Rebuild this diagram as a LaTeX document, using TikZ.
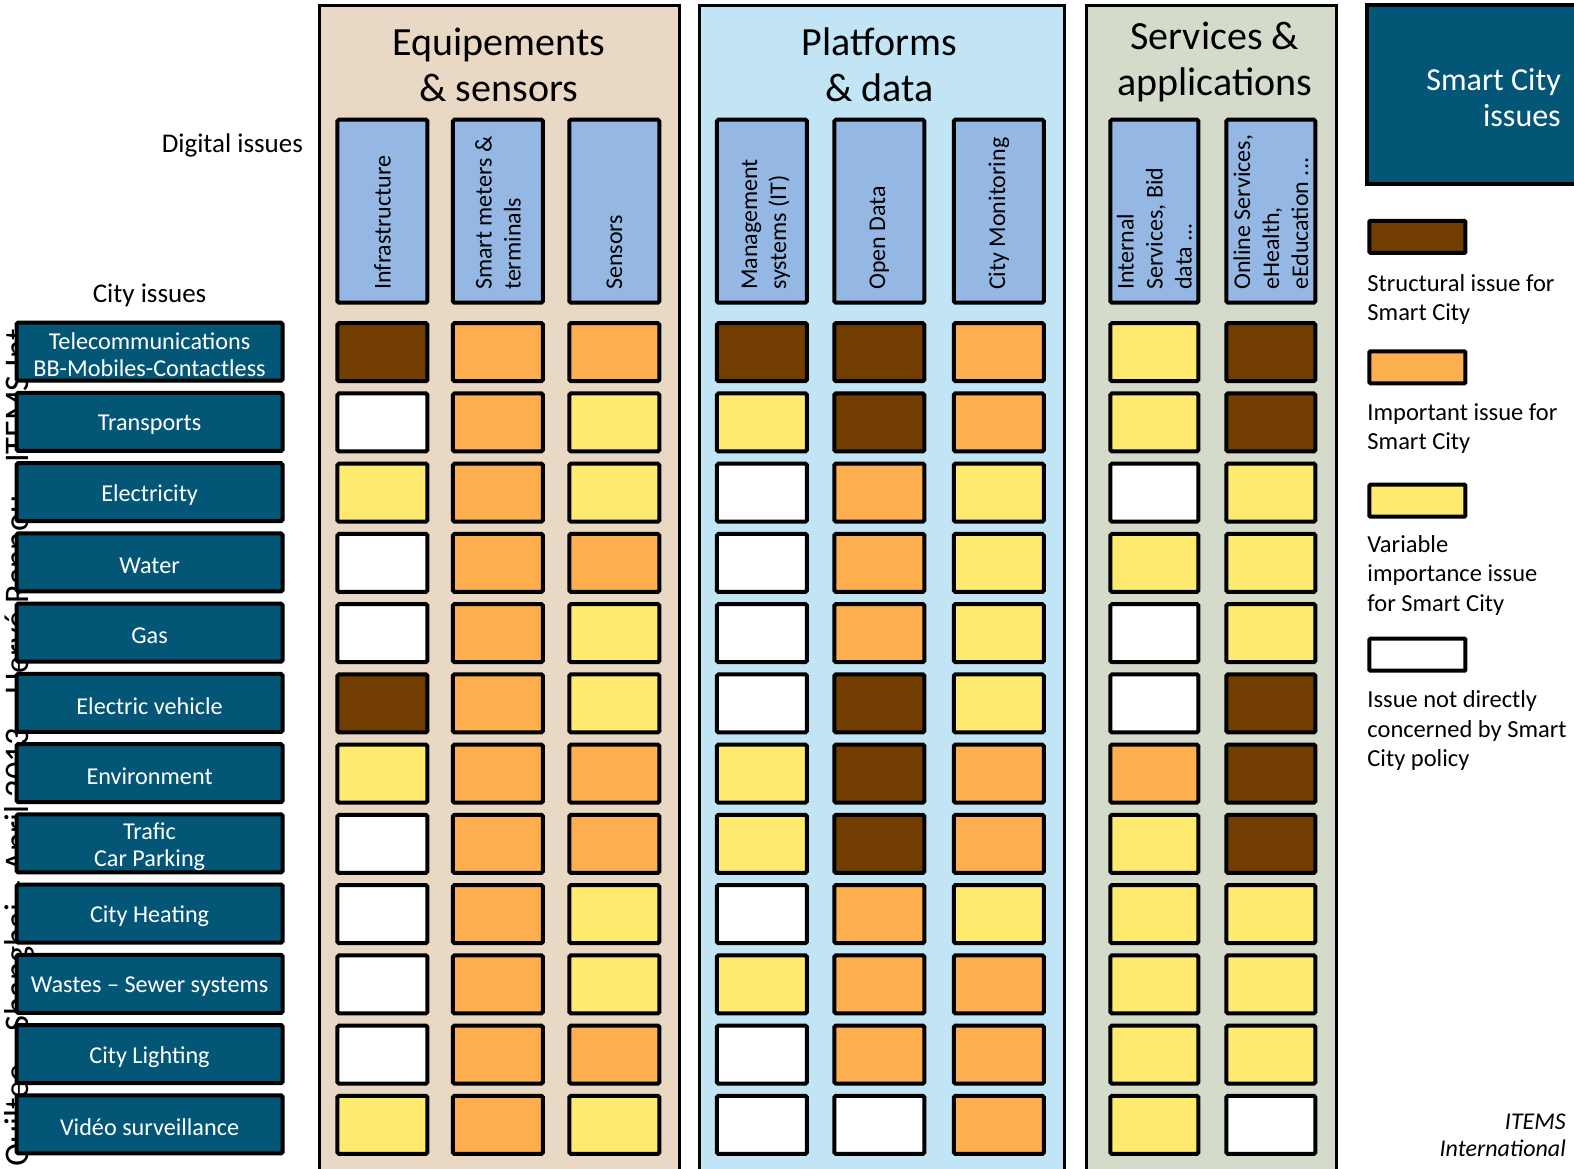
\documentclass[tikz,border=0pt]{standalone}
\usepackage{fontspec}
\setmainfont{Carlito}
\definecolor{pbeige}{HTML}{E9D8C3}
\definecolor{pblue}{HTML}{C1E5F4}
\definecolor{pgreen}{HTML}{D5DBCB}
\definecolor{hblue}{HTML}{95B7E3}
\definecolor{smteal}{HTML}{045677}
\definecolor{cbrown}{HTML}{713D00}
\definecolor{corange}{HTML}{FDAE4E}
\definecolor{cyellow}{HTML}{FEEA6E}
\tikzset{
  panel/.style={draw=black, line width=3pt},
  hdrbox/.style={draw=black, line width=4pt, fill=hblue, minimum width=90pt, minimum height=183pt, rounded corners=1.5pt, inner sep=0pt},
  hdrtext/.style={rotate=90, anchor=west, align=left, inner sep=0pt, font=\fontsize{24}{29}\selectfont},
  cellbox/.style={draw=black, line width=4pt, minimum width=90pt, minimum height=58pt, rounded corners=1.5pt, inner sep=0pt},
  cB/.style={cellbox, fill=cbrown},
  cO/.style={cellbox, fill=corange},
  cY/.style={cellbox, fill=cyellow},
  cW/.style={cellbox, fill=white},
  citybox/.style={draw=black, line width=4pt, fill=smteal, minimum width=266pt, minimum height=58pt, rounded corners=1.5pt, inner sep=0pt},
  citytext/.style={text=white, inner sep=0pt, align=center, font=\fontsize{24.2}{27}\selectfont},
  titletext/.style={align=center, inner sep=0pt, font=\fontsize{40}{46}\selectfont},
  legbox/.style={draw=black, line width=4pt, minimum width=96pt, minimum height=32pt, rounded corners=1pt, inner sep=0pt},
  legtext/.style={anchor=north west, align=left, inner sep=0pt, font=\fontsize{24.5}{29.5}\selectfont},
}
\begin{document}
\begin{tikzpicture}[x=1.00383pt,y=-1.00343pt]
\useasboundingbox (0,0) rectangle (1568,1165);
% watermark behind the city boxes
\node[rotate=90, anchor=base west, inner sep=0pt, font=\fontsize{34.5}{40}\selectfont] (wm) at (28,1163) {Quiltee – Shanghai – April 2013 – Hervé Rannou – ITEMS Int};

% panels
\path[panel, fill=pbeige] (318,5) rectangle (677,1185);
\path[panel, fill=pblue] (697,5) rectangle (1060,1185);
\path[panel, fill=pgreen] (1082,5) rectangle (1331,1185);

% titles
\node[titletext] (tEq) at (497,65) {Equipements\\\& sensors};
\node[titletext] (tPl) at (876,65) {Platforms\\\& data};
\node[titletext] (tSe) at (1210,62) {Services \&\\applications};

% smart city box
\path[draw=black, line width=4pt, fill=smteal] (1362,5) rectangle (1590,183);
\node[anchor=east, align=right, text=white, inner sep=0pt, font=\fontsize{32}{36}\selectfont] (sci) at (1555,97) {Smart City\\issues};

% side labels
\node[anchor=east, inner sep=0pt, font=\fontsize{27}{32}\selectfont] (dig) at (302,145) {Digital issues};
\node[inner sep=0pt, font=\fontsize{27}{32}\selectfont] (cit) at (149,294) {City issues};

% column headers
\foreach \x/\w/\n in {381/90/1, 496/90/2, 612/90/3, 759/90/4, 876/90/5, 995/90/6, 1150/88/7, 1266/89/8}
  \node[hdrbox, minimum width=\w pt] (h\n) at (\x,210.5) {};
\node[hdrtext] (ht1) at (h1.center |- 0,289) {Infrastructure};
\node[hdrtext] (ht2) at (h2.center |- 0,289) {Smart meters \&\\terminals};
\node[hdrtext] (ht3) at (h3.center |- 0,289) {Sensors};
\node[hdrtext] (ht4) at ([xshift=4pt]h4.center |- 0,289) {Management\\systems (IT)};
\node[hdrtext] (ht5) at (h5.center |- 0,289) {Open Data};
\node[hdrtext] (ht6) at (h6.center |- 0,289) {City Monitoring};
\node[hdrtext] (ht7) at (h7.center |- 0,289) {Internal\\Services, Bid\\data ...};
\node[hdrtext] (ht8) at (h8.center |- 0,289) {Online Services,\\eHealth,\\eEducation ...};

% cells
\foreach \r/\a/\b/\c/\d/\e/\f/\g/\h in {
  1/B/O/O/B/B/O/Y/B,
  2/W/O/Y/Y/B/O/Y/B,
  3/Y/O/Y/W/O/Y/W/Y,
  4/W/O/O/W/O/Y/Y/Y,
  5/W/O/Y/W/O/Y/W/Y,
  6/B/O/Y/W/B/Y/W/B,
  7/Y/O/O/Y/B/O/O/B,
  8/W/O/O/Y/B/O/Y/B,
  9/W/O/Y/W/O/Y/Y/Y,
  10/W/O/Y/Y/O/O/Y/Y,
  11/W/O/O/W/O/O/Y/Y,
  12/Y/O/Y/W/W/O/Y/W}{
  \pgfmathsetmacro{\yy}{351+70*(\r-1)}
  \node[c\a] (c-\r-1) at (381,\yy) {};
  \node[c\b] (c-\r-2) at (496,\yy) {};
  \node[c\c] (c-\r-3) at (612,\yy) {};
  \node[c\d] (c-\r-4) at (759,\yy) {};
  \node[c\e] (c-\r-5) at (876,\yy) {};
  \node[c\f] (c-\r-6) at (995,\yy) {};
  \node[c\g, minimum width=88pt] (c-\r-7) at (1150,\yy) {};
  \node[c\h, minimum width=89pt] (c-\r-8) at (1266,\yy) {};
}

% city issues
\foreach \r/\t in {1/{Telecommunications\\BB-Mobiles-Contactless}, 2/Transports, 3/Electricity, 4/Water, 5/Gas, 6/Electric vehicle, 7/Environment, 8/{Trafic\\Car Parking}, 9/City Heating, 10/Wastes – Sewer systems, 11/City Lighting, 12/Vidéo surveillance}{
  \pgfmathsetmacro{\yy}{350.5+70*(\r-1)}
  \node[citybox] (city\r) at (149,\yy) {};
  \node[citytext] (cityt\r) at ([yshift=-3pt]city\r.center) {\t};
}

% legend
\node[legbox, fill=cbrown] (l1) at (1412,236) {};
\node[legtext] (lt1) at (1362,273) {Structural issue for\\Smart City};
\node[legbox, fill=corange] (l2) at (1412,366) {};
\node[legtext] (lt2) at (1362,402) {Important issue for\\Smart City};
\node[legbox, fill=cyellow] (l3) at (1412,499) {};
\node[legtext] (lt3) at (1362,533) {Variable\\importance issue\\for Smart City};
\node[legbox, fill=white] (l4) at (1412,652.5) {};
\node[legtext] (lt4) at (1362,688) {Issue not directly\\concerned by Smart\\City policy};

% credit
\node[anchor=east, align=right, inner sep=0pt, font=\fontsize{24}{27}\itshape\selectfont] (cred) at (1560,1131) {ITEMS\\International};
\end{tikzpicture}
\end{document}
